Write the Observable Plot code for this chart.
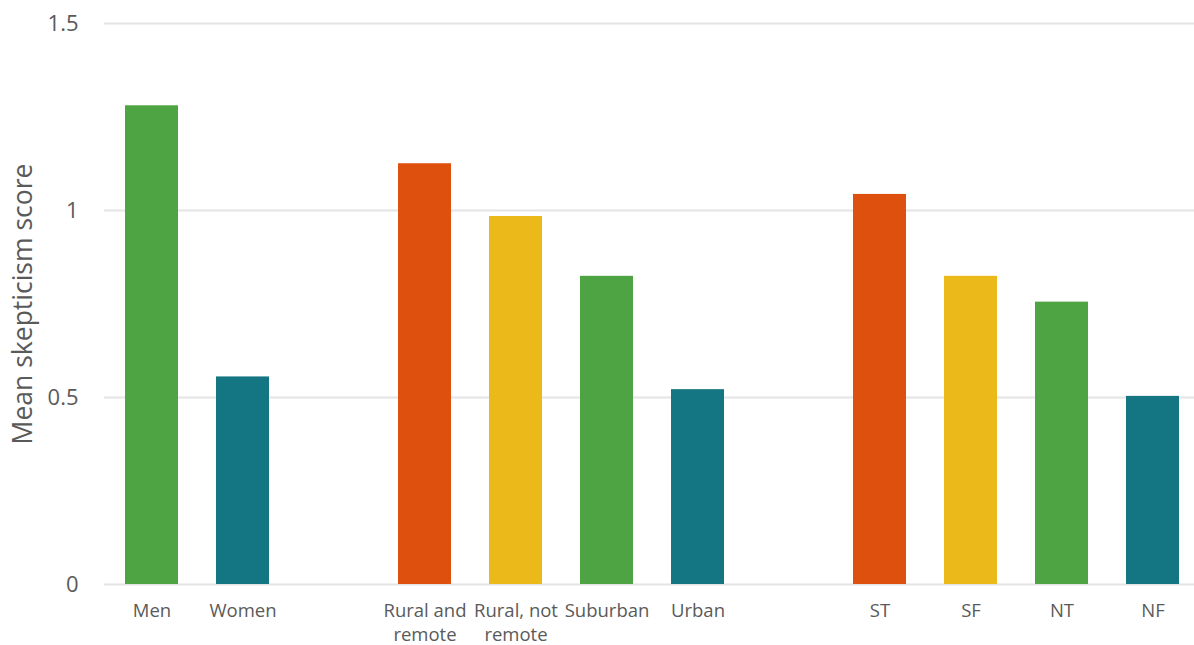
<!DOCTYPE html>
<html><head><meta charset="utf-8">
<script src="https://cdn.jsdelivr.net/npm/d3@7"></script>
<script src="https://cdn.jsdelivr.net/npm/@observablehq/plot@0.6"></script>
<style>body{margin:0;background:#fff;font-family:"Open Sans",sans-serif}</style>
</head><body><div id="chart"></div>
<script>
const slots = ["Men","Women","gap1","Rural and\nremote","Rural, not\nremote","Suburban","Urban","gap2","ST","SF","NT","NF"];
const categories = ["Men","Women","Rural and\nremote","Rural, not\nremote","Suburban","Urban","ST","SF","NT","NF"];
const values = [1.28, 0.555, 1.125, 0.984, 0.824, 0.521, 1.043, 0.824, 0.755, 0.503];
const colors = ["#4ea442","#137682","#de500e","#ebba1a","#4ea442","#137682","#de500e","#ebba1a","#4ea442","#137682"];
const yTicks = [0, 0.5, 1, 1.5];
const data = categories.map((c,i)=>({cat:c, value:values[i], color:colors[i]}));

const chart = Plot.plot({
  width: 1194, height: 645,
  marginTop: 23, marginBottom: 61, marginLeft: 104, marginRight: 0,
  style: {fontFamily: "Open Sans", background: "#fff"},
  x: {domain: slots, range: [104, 1199], paddingInner: 0.42, paddingOuter: 0.21, label: null},
  y: {domain: [0, 1.5], label: null},
  marks: [
    Plot.ruleY(yTicks, {stroke: "#e4e4e4", strokeWidth: 2}),
    Plot.barY(data, {x: "cat", y: "value", fill: "color"}),
    Plot.axisX(categories, {tickSize: 0, tickPadding: 15, fontSize: 18.5, fill: "#5a5a5a", lineHeight: 1.32, label: null}),
    Plot.axisY(yTicks, {tickSize: 0, tickPadding: 26, fontSize: 22, fill: "#5a5a5a", tickFormat: d => String(d), label: null}),
    Plot.text(["Mean skepticism score"], {frameAnchor: "left", textAnchor: "middle", dx: -81, rotate: -90, fontSize: 26.5, fill: "#5a5a5a"})
  ]
});
document.getElementById("chart").appendChild(chart);
</script></body></html>
